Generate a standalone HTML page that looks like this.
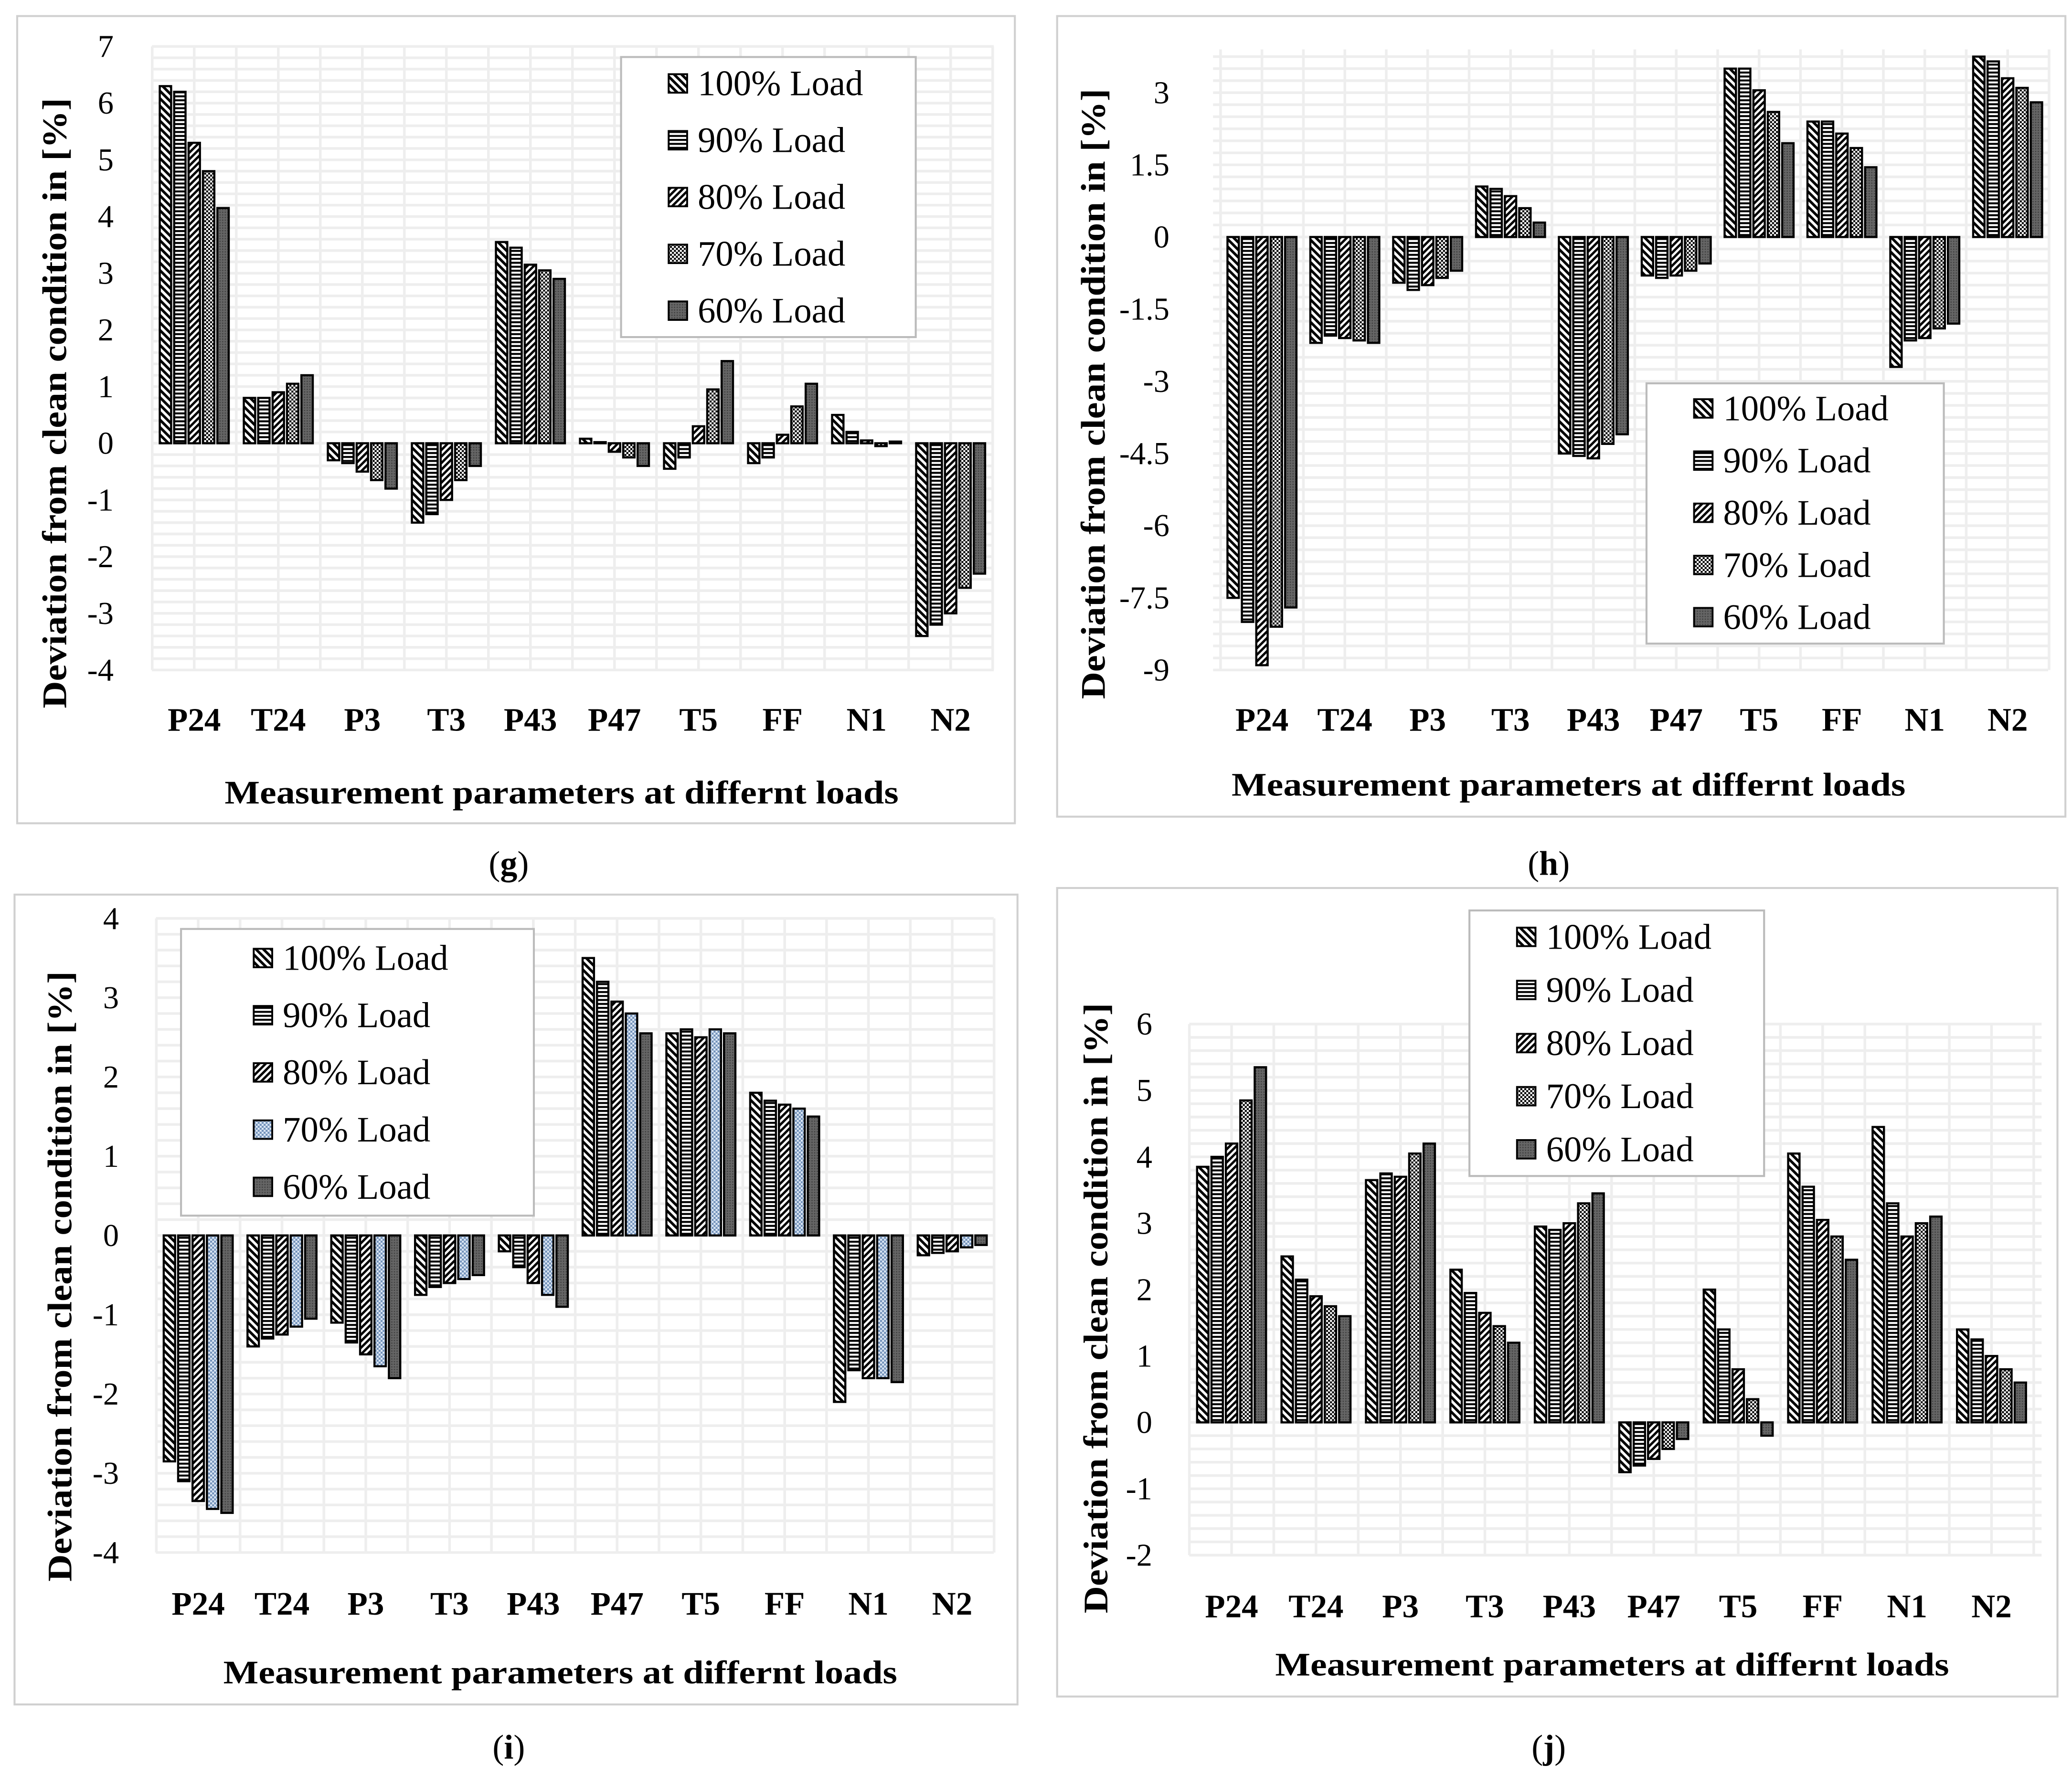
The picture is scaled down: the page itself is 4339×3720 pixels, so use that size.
<!DOCTYPE html>
<html><head><meta charset="utf-8">
<style>
html,body{margin:0;padding:0;background:#fff;}
svg{display:block;}
text{font-family:"Liberation Serif",serif;fill:#000;}
</style></head>
<body>
<svg id="root" width="4339" height="3720" viewBox="0 0 1568 1344" xmlns="http://www.w3.org/2000/svg">
<defs>
<pattern id="p100" patternUnits="userSpaceOnUse" width="4" height="4" patternTransform="rotate(-45)"><rect width="4" height="4" fill="#fff"/><rect width="2" height="4" fill="#000"/></pattern>
<pattern id="p90" patternUnits="userSpaceOnUse" width="4" height="3"><rect width="4" height="3" fill="#fff"/><rect width="4" height="1.5" fill="#000"/></pattern>
<pattern id="p80" patternUnits="userSpaceOnUse" width="3.5" height="3.5" patternTransform="rotate(45)"><rect width="3.5" height="3.5" fill="#fff"/><rect width="1.8" height="3.5" fill="#000"/></pattern>
<pattern id="p70" patternUnits="userSpaceOnUse" width="3" height="3"><rect width="3" height="3" fill="#fff"/><rect width="1.5" height="1.5" fill="#000"/><rect x="1.5" y="1.5" width="1.5" height="1.5" fill="#000"/></pattern>
<pattern id="p70b" patternUnits="userSpaceOnUse" width="3" height="3"><rect width="3" height="3" fill="#dde8f5"/><rect width="1.5" height="1.5" fill="#6f8fb8"/><rect x="1.5" y="1.5" width="1.5" height="1.5" fill="#6f8fb8"/></pattern>
<pattern id="p60" patternUnits="userSpaceOnUse" width="2" height="2"><rect width="2" height="2" fill="#666"/><rect width="1" height="1" fill="#444"/></pattern>
</defs>
</svg>
<script>
const categories = ["P24","T24","P3","T3","P43","P47","T5","FF","N1","N2"];
const seriesNames = ["100% Load","90% Load","80% Load","70% Load","60% Load"];
const gValues = [[6.3,6.2,5.3,4.8,4.15],[0.8,0.8,0.9,1.05,1.2],[-0.3,-0.35,-0.5,-0.65,-0.8],[-1.4,-1.25,-1.0,-0.65,-0.4],[3.55,3.45,3.15,3.05,2.9],[0.08,0.02,-0.15,-0.25,-0.4],[-0.45,-0.25,0.3,0.95,1.45],[-0.35,-0.25,0.15,0.65,1.05],[0.5,0.2,0.05,-0.05,0.03],[-3.4,-3.2,-3.0,-2.55,-2.3]];
const hValues = [[-7.5,-8.0,-8.9,-8.1,-7.7],[-2.2,-2.05,-2.1,-2.15,-2.2],[-0.95,-1.1,-1.0,-0.85,-0.7],[1.05,1.0,0.85,0.6,0.3],[-4.5,-4.55,-4.6,-4.3,-4.1],[-0.8,-0.85,-0.8,-0.7,-0.55],[3.5,3.5,3.05,2.6,1.95],[2.4,2.4,2.15,1.85,1.45],[-2.7,-2.15,-2.1,-1.9,-1.8],[3.75,3.65,3.3,3.1,2.8]];
const iValues = [[-2.85,-3.1,-3.35,-3.45,-3.5],[-1.4,-1.3,-1.25,-1.15,-1.05],[-1.1,-1.35,-1.5,-1.65,-1.8],[-0.75,-0.65,-0.6,-0.55,-0.5],[-0.2,-0.4,-0.6,-0.75,-0.9],[3.5,3.2,2.95,2.8,2.55],[2.55,2.6,2.5,2.6,2.55],[1.8,1.7,1.65,1.6,1.5],[-2.1,-1.7,-1.8,-1.8,-1.85],[-0.25,-0.22,-0.2,-0.15,-0.12]];
const jValues = [[3.85,4.0,4.2,4.85,5.35],[2.5,2.15,1.9,1.75,1.6],[3.65,3.75,3.7,4.05,4.2],[2.3,1.95,1.65,1.45,1.2],[2.95,2.9,3.0,3.3,3.45],[-0.75,-0.65,-0.55,-0.4,-0.25],[2.0,1.4,0.8,0.35,-0.2],[4.05,3.55,3.05,2.8,2.45],[4.45,3.3,2.8,3.0,3.1],[1.4,1.25,1.0,0.8,0.6]];
const gTicks = [7,6,5,4,3,2,1,0,-1,-2,-3,-4];
const hTicks = [3,1.5,0,-1.5,-3,-4.5,-6,-7.5,-9];
const iTicks = [4,3,2,1,0,-1,-2,-3,-4];
const jTicks = [6,5,4,3,2,1,0,-1,-2];

const NS="http://www.w3.org/2000/svg";
const root=document.getElementById('root');
function mk(tag,attrs,parent){const e=document.createElementNS(NS,tag);for(const k in attrs)e.setAttribute(k,attrs[k]);(parent||root).appendChild(e);return e;}

const panels=[
 {id:'g',vals:gValues,ticks:gTicks,box:[13,12,755,611],yTop:35,yBot:507,vMax:7,vMin:-4,x0:115,x1:752,cx0:147,cStep:63.6,tickX:86,catY:553,xtX:425,xtY:608,ytX:42,ytY:305,legend:[470,43,223,212],legY0:63,legStep:43,capX:385,capY:662,cap:'g',blue:false,minor:0.2},
 {id:'h',vals:hValues,ticks:hTicks,box:[800,12,763,606],yTop:70,yBot:507,vMax:3,vMin:-9,x0:918,x1:1550,cx0:955,cStep:62.7,tickX:885,catY:553,xtX:1187,xtY:602,ytX:828,ytY:298,legend:[1246,290,225,197],legY0:309,legStep:39.5,capX:1172,capY:662,cap:'h',blue:false,minor:0.25,topExtra:3.9},
 {id:'i',vals:iValues,ticks:iTicks,box:[11,677,759,613],yTop:695,yBot:1175,vMax:4,vMin:-4,x0:118,x1:752,cx0:150,cStep:63.4,tickX:90,catY:1222,xtX:424,xtY:1274,ytX:46,ytY:966,legend:[137,703,267,217],legY0:725,legStep:43.3,capX:385,capY:1331,cap:'i',blue:true,minor:0.2},
 {id:'j',vals:jValues,ticks:jTicks,box:[800,672,757,612],yTop:775,yBot:1177,vMax:6,vMin:-2,x0:900,x1:1545,cx0:932,cStep:63.9,tickX:872,catY:1224,xtX:1220,xtY:1268,ytX:830,ytY:990,legend:[1112,689,223,201],legY0:709,legStep:40.2,capX:1172,capY:1331,cap:'j',blue:false,minor:0.2}
];

panels.forEach(p=>{
  const g=mk('g',{});
  
  
  const border=mk('rect',{x:p.box[0],y:p.box[1],width:p.box[2],height:p.box[3],fill:'#fff',stroke:'#d0d0d0','stroke-width':1.5},g);
  
  
  const top=p.topExtra||p.vMax;
  const y=v=>p.yTop+(p.vMax-v)*(p.yBot-p.yTop)/(p.vMax-p.vMin);
  const grid=mk('g',{stroke:'#eeeeee','stroke-width':2},g);
  
  
  for(let v=p.vMin;v<=top+1e-6;v+=p.minor){mk('line',{x1:p.x0,x2:p.x1,y1:y(v),y2:y(v)},grid);}
  for(let k=0;k<=categories.length*2;k++){const xx=p.cx0-p.cStep/2+k*p.cStep/2;if(xx<=p.x1+1)mk('line',{x1:xx,x2:xx,y1:y(top),y2:y(p.vMin)},grid);}
  p.ticks.forEach(t=>{
    const tl=mk('text',{x:p.tickX,y:y(t)+8,'text-anchor':'end','font-size':24},g);
    tl.textContent=String(t);
    
    
  });
  const bw=8.6,pitch=10.9;
  categories.forEach((c,ci)=>{
    const cx=p.cx0+ci*p.cStep;
    p.vals[ci].forEach((v,si)=>{
      const bx=cx-2*pitch+si*pitch-bw/2;
      const y0=y(0),y1=y(v);
      const fill=si===3&&p.blue?'url(#p70b)':'url(#p'+[100,90,80,70,60][si]+')';
      const r=mk('rect',{x:bx,y:Math.min(y0,y1),width:bw,height:Math.max(Math.abs(y1-y0),0.8),fill:fill,stroke:'#000','stroke-width':1.6},g);
      
      
    });
    const cl=mk('text',{x:cx,y:p.catY,'text-anchor':'middle','font-size':25,'font-weight':'bold'},g);
    cl.textContent=c;
    
    
  });
  const xt=mk('text',{x:p.xtX,y:p.xtY,'text-anchor':'middle','font-size':25,'font-weight':'bold',textLength:510,lengthAdjust:'spacingAndGlyphs'},g);
  xt.textContent='Measurement parameters at differnt loads';
  
  
  const yt=mk('text',{x:0,y:0,'text-anchor':'middle','font-size':26,'font-weight':'bold',textLength:462,lengthAdjust:'spacingAndGlyphs',transform:'translate('+(p.ytX+8)+','+p.ytY+') rotate(-90)'},g);
  yt.textContent='Deviation from clean condition in [%]';
  
  
  const L=p.legend;
  const lg=mk('g',{},g);
  
  
  mk('rect',{x:L[0],y:L[1],width:L[2],height:L[3],fill:'#fff',stroke:'#bbb','stroke-width':1.5},lg);
  const sx=L[0]+(p.id==='i'?55:36);
  seriesNames.forEach((n,si)=>{
    const ly=p.legY0+si*p.legStep;
    const fill=si===3&&p.blue?'url(#p70b)':'url(#p'+[100,90,80,70,60][si]+')';
    const sw=mk('rect',{x:sx,y:ly-7,width:14,height:14,fill:fill,stroke:'#000','stroke-width':1.4},lg);
    
    
    const lt=mk('text',{x:sx+22,y:ly+9,'font-size':27},lg);
    lt.textContent=n;
    
    
  });
  const cap=mk('text',{x:p.capX,y:p.capY,'text-anchor':'middle','font-size':26},root);
  cap.innerHTML='(<tspan font-weight="bold">'+p.cap+'</tspan>)';
  
  
});
</script>
</body></html>
